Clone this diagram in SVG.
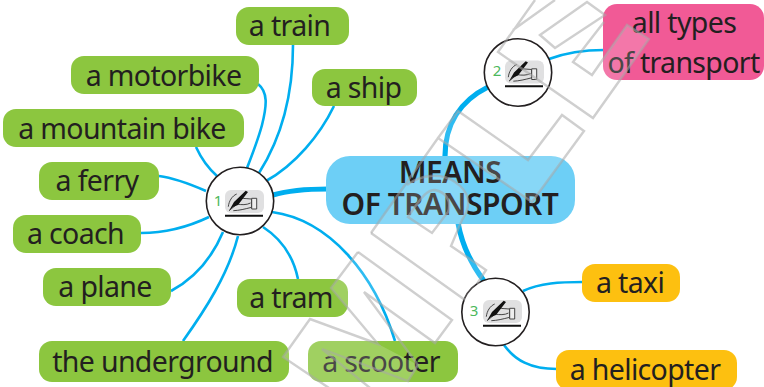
<svg xmlns="http://www.w3.org/2000/svg" width="764" height="387" viewBox="0 0 764 387">
<style>
text{font-family:"Noto Sans","Open Sans","Liberation Sans",sans-serif;fill:#231f20;text-anchor:middle}
.t{font-size:28.500px;letter-spacing:-.65px}
.b{font-size:30px;font-weight:600;letter-spacing:-.5px}
.g{fill:#8cc63f}.o{fill:#fdc010}
.c path{fill:none;stroke:#00aeef;stroke-width:2.6px}
.c path.k{stroke-width:5.2px}
.n{font-size:15px;fill:#4cb85c}
.ring{fill:#fff;stroke:#231f20;stroke-width:1.6px}
.w{fill:none;stroke:#a8a8a8;stroke-opacity:.55;stroke-width:2.4px}
.f{fill:#fff;fill-opacity:.18;stroke:none}
</style>
<defs>
<g id="icon">
<rect width="39" height="23" rx="6" fill="#e0e0e1"/>
<path d="M0 25.700H38" stroke="#111" stroke-width="2" fill="none"/>
<path d="M3.300 16.700C4 11 7 6 11.700 4M14 9C17 8 19 8.500 26.700 9V17.300C20 19 14 20.500 8.300 20.700M4 20.700 11 15M12 14C16 15 22 15 25.500 13" fill="none" stroke="#333" stroke-width=".9"/>
<path d="M26.700 8.300H31.700V19H26.700Z" fill="#eee" stroke="#333" stroke-width=".9"/>
<path d="M4 20.700 9 12 20.700 .8 23 2 13 15 8 17Z" fill="#111"/>
</g>
</defs>
<g class="c" id="connectors">
<path class="k" d="M273 195C290 190 308 189 328 189"/>
<path class="k" d="M488 87C460 101 445 125 445 156"/>
<path class="k" d="M458 223C462 245 472 265 484 281"/>
<path d="M549 59C565 53 585 50 604 50"/>
<path d="M523 291C540 283 560 282 583 282"/>
<path d="M504 345C515 360 530 369 557 369"/>
<path d="M293 45C293 100 280 140 259 173"/>
<path d="M258 84C268 92 267 105 262 125C258 140 252 155 247 168"/>
<path d="M334 106C320 135 295 165 266 181"/>
<path d="M196 147C201 158 208 168 217 176"/>
<path d="M159 176C175 178 190 184 206 191"/>
<path d="M141 233C165 233 188 227 209 217"/>
<path d="M171 291C195 278 212 258 223 232"/>
<path d="M183 341C205 310 228 275 238 236"/>
<path d="M263 227C280 238 293 255 298 279"/>
<path d="M272 212C330 220 375 275 395 341"/>
</g>
<g id="n-train"><rect class="g" x="236" y="7" width="113" height="38" rx="13"/><text class="t" x="289.500" y="36">a train</text></g>
<g id="n-motorbike"><rect class="g" x="71" y="56" width="188" height="38" rx="13"/><text class="t" x="163.500" y="86">a motorbike</text></g>
<g id="n-ship"><rect class="g" x="312" y="69" width="105" height="37" rx="13"/><text class="t" x="363.500" y="98">a ship</text></g>
<g id="n-mountain"><rect class="g" x="3" y="109" width="241" height="38" rx="13"/><text class="t" x="122" y="139">a mountain bike</text></g>
<g id="n-ferry"><rect class="g" x="39" y="162" width="120" height="38" rx="13"/><text class="t" x="97" y="191">a ferry</text></g>
<g id="n-coach"><rect class="g" x="13" y="215" width="128" height="38" rx="13"/><text class="t" x="75.500" y="244">a coach</text></g>
<g id="n-plane"><rect class="g" x="43" y="268" width="128" height="38" rx="13"/><text class="t" x="105" y="297">a plane</text></g>
<g id="n-tram"><rect class="g" x="237" y="279" width="111" height="38" rx="13"/><text class="t" x="291" y="308">a tram</text></g>
<g id="n-underground"><rect class="g" x="39" y="341" width="250" height="41" rx="13"/><text class="t" x="162.500" y="372">the underground</text></g>
<g id="n-scooter"><rect class="g" x="308" y="341" width="150" height="41" rx="13"/><text class="t" x="381" y="372">a scooter</text></g>
<g id="n-center"><rect x="326" y="156" width="249" height="68" rx="24" fill="#6dcff6"/><text class="b"><tspan x="450" y="183">MEANS</tspan><tspan x="450" y="215">OF TRANSPORT</tspan></text></g>
<g id="n-all"><rect x="603" y="4" width="161" height="76" rx="14" fill="#f15a96"/><text class="t" x="684" y="33">all types</text><text class="t" x="683.500" y="73">of transport</text></g>
<g id="n-taxi"><rect class="o" x="582" y="264" width="98" height="38" rx="13"/><text class="t" x="630" y="293">a taxi</text></g>
<g id="n-helicopter"><rect class="o" x="556" y="350" width="181" height="40" rx="13"/><text class="t" x="645" y="380">a helicopter</text></g>
<g id="n-1"><circle class="ring" cx="240" cy="201" r="33.700"/><use href="#icon" x="225" y="190"/><text class="n" x="218" y="205.500">1</text></g>
<g id="n-2"><circle class="ring" cx="518" cy="72.500" r="33.700"/><use href="#icon" x="505" y="60.500"/><text class="n" x="497" y="76">2</text></g>
<g id="n-3"><circle class="ring" cx="495.500" cy="312" r="33.700"/><use href="#icon" x="483" y="300"/><text class="n" x="474" y="316">3</text></g>
<g id="watermark">
<path class="f" d="M358 252 452 320 435 343 364 292 378 344 331 288Z"/>
<path class="f" d="M283 357 310 319 378 344 418 365 408 381 425 400H338Z"/>
<path class="f" d="M438 138 458 111 528 160 562 115 584 131 532 202Z"/>
<path class="f" d="M371 233 407 185C420 175 440 172 455 182C470 192 472 205 462 220L451 246 486 270 465 300Z"/>
<path class="f" d="M627 25 649 39 593 118 573 100Z"/>
<path class="w" d="M358 252 452 320 435 343 364 292 418 365 408 381 322 349 375 392"/>
<path class="w" d="M358 252 331 288 378 344 310 319 283 357 335 392"/>
<path class="w" d="M438 138 458 111 528 160 562 115 584 131 532 202ZM438 138 371 233"/>
<path class="w" d="M371 233 465 300M408 217 432 233 448 212C452 200 445 192 435 190C428 190 423 194 408 217Z"/>
<path class="w" d="M407 185C420 175 440 172 455 182C470 192 472 205 462 220L451 246 486 270 477 284"/>
<path class="w" d="M535 0 498 52 593 118 649 39 627 25 592 75 573 62 604 22M513 30 555 0"/>
<path class="w" d="M540 35 587 2 605 15 555 48Z"/>
</g>
</svg>
